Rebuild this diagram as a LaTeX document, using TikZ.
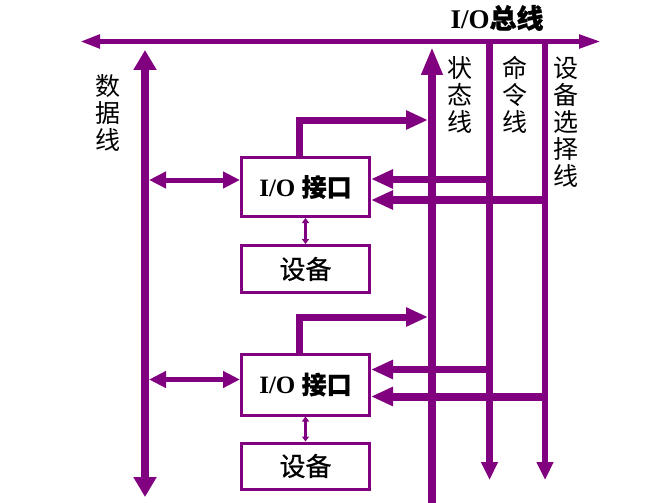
\documentclass[tikz,border=0pt]{standalone}
\usepackage{fontspec}
\setmainfont{Liberation Serif}
\newfontfamily\cjk{Noto Sans CJK SC}
\newfontfamily\cjkb{Noto Sans CJK SC}[FakeBold=0.8]
\usetikzlibrary{positioning, arrows.meta, calc}
\definecolor{iopurple}{RGB}{128,0,128}

\begin{document}
\begin{tikzpicture}[x=1pt, y=-1pt,
    linha/.style={draw=iopurple, line width=#1},
    caixa/.style={draw=iopurple, line width=3pt, minimum width=128pt, inner sep=0pt, fill=white},
    rotulo/.style={font=\cjk\fontsize{25}{27}\selectfont, align=center, inner sep=0pt}]
    \useasboundingbox (0,0) rectangle (672,503);
    % Barramento de E/S
    \coordinate (busL) at (80,41.5);
    \coordinate (busR) at (601,41.5);
    \draw[linha=5pt, {Triangle[length=20pt,width=13pt]}-{Triangle[length=22pt,width=13pt]}] (busL) -- (busR);
    \node[font=\bfseries\fontsize{27}{27}\selectfont] (busTxt) at (497,18) {I/O{\cjkb 总线}};
    % Linhas verticais
    \coordinate (datTop) at (145,50);
    \coordinate (datBot) at (145,497);
    \draw[linha=8pt, {Triangle[length=20pt,width=22pt]}-{Triangle[length=20pt,width=22pt]}] (datTop) -- (datBot);
    \coordinate (stTop) at (432,47);
    \coordinate (stBot) at (432,503);
    \draw[linha=8pt, -{Triangle[length=28pt,width=20pt]}] (stBot) -- (stTop);
    \coordinate (cmdTop) at (489.5,41.5);
    \coordinate (cmdBot) at (489.5,480);
    \draw[linha=7pt, -{Triangle[length=18pt,width=16pt]}] (cmdTop) -- (cmdBot);
    \coordinate (selTop) at (545,41.5);
    \coordinate (selBot) at (545,480);
    \draw[linha=6pt, -{Triangle[length=18pt,width=16pt]}] (selTop) -- (selBot);
    % Rotulos das linhas
    \node[rotulo] (datLbl) at (108,113) {数\\据\\线};
    \node[rotulo] (stLbl) at (460,95) {状\\态\\线};
    \node[rotulo] (cmdLbl) at (515,95) {命\\令\\线};
    \node[rotulo] (selLbl) at (566,122) {设\\备\\选\\择\\线};
    % Interfaces e dispositivos
    \node[caixa, minimum height=59pt, font=\bfseries\fontsize{25}{25}\selectfont] (io1) at (305.5,187) {I/O {\cjkb 接口}};
    \node[caixa, minimum height=47pt, below=26pt of io1, font=\cjkb\fontsize{26}{26}\selectfont] (dev1) {设备};
    \node[caixa, minimum height=61pt, font=\bfseries\fontsize{25}{25}\selectfont] (io2) at (305.5,384.5) {I/O {\cjkb 接口}};
    \node[caixa, minimum height=46pt, below=25pt of io2, font=\cjkb\fontsize{26}{26}\selectfont] (dev2) {设备};
    % Ligacoes de cada interface
    \foreach \i/\dy/\cy/\sy/\ty in {1/7/8/-13/120, 2/5/15/-12/317} {
      \coordinate (d\i) at ([yshift=\dy pt]io\i.west);
      \coordinate (dl\i) at (datTop |- d\i);
      \draw[linha=5pt, shorten <=4pt, {Triangle[length=17pt,width=16pt]}-{Triangle[length=17pt,width=16pt]}] (dl\i) -- (d\i);
      \coordinate (s\i) at ([xshift=-6.5pt]io\i.north);
      \coordinate (t\i) at (432,\ty);
      \draw[linha=7pt, shorten >=4pt, -{Triangle[length=22pt,width=18pt]}] (s\i) |- (t\i);
      \coordinate (c\i) at ([yshift=\cy pt]io\i.east);
      \draw[linha=7pt, -{Triangle[length=22pt,width=18pt]}] (cmdTop |- c\i) -- (c\i);
      \coordinate (e\i) at ([yshift=\sy pt]io\i.east);
      \draw[linha=8pt, -{Triangle[length=22pt,width=18pt]}] (selTop |- e\i) -- (e\i);
      \draw[linha=3pt, {Triangle[length=5pt,width=7pt]}-{Triangle[length=5pt,width=7pt]}] (io\i.south) -- (dev\i.north);
    }
\end{tikzpicture}
\end{document}
